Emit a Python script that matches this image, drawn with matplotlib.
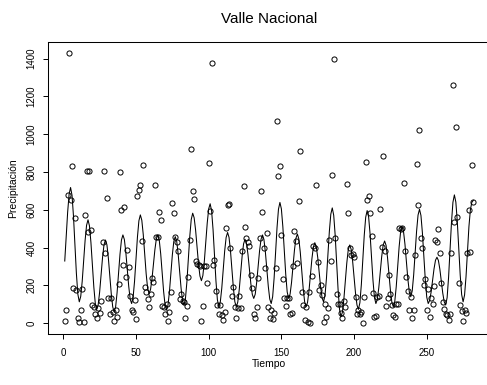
import numpy as np
import matplotlib.pyplot as plt

# precipitacion mensual, 12 por fila
precipitacion = [
    10, 72, 679, 1431, 653, 830, 184, 559, 175, 28, 5, 72,
    182, 5, 570, 808, 480, 803, 492, 95, 87, 48, 25, 81,
    55, 119, 432, 808, 373, 660, 133, 46, 134, 60, 9, 72,
    34, 205, 798, 600, 306, 617, 242, 387, 299, 145, 72, 57,
    122, 23, 671, 706, 729, 433, 837, 189, 163, 127, 83, 154,
    240, 219, 729, 455, 458, 586, 547, 92, 87, 48, 104, 11,
    60, 166, 635, 582, 455, 432, 380, 129, 154, 119, 113, 25,
    92, 246, 441, 924, 697, 656, 331, 313, 306, 304, 11, 92,
    304, 304, 214, 848, 594, 1378, 308, 334, 172, 96, 51, 96,
    42, 16, 60, 502, 626, 632, 400, 143, 190, 87, 30, 81,
    143, 81, 382, 727, 511, 449, 428, 410, 255, 184, 48, 30,
    87, 237, 449, 697, 587, 400, 290, 476, 87, 25, 72, 21,
    55, 290, 1069, 780, 833, 467, 234, 134, 92, 134, 134, 48,
    55, 300, 488, 435, 317, 649, 909, 163, 96, 19, 87, 7,
    166, 2, 249, 409, 396, 729, 322, 175, 202, 149, 4, 104,
    34, 78, 440, 330, 786, 1396, 450, 154, 104, 104, 55, 28,
    120, 87, 736, 582, 400, 361, 366, 349, 140, 51, 72, 46,
    60, 0, 140, 851, 653, 671, 582, 464, 161, 34, 39, 140,
    145, 603, 405, 886, 380, 90, 131, 255, 157, 96, 42, 34,
    101, 101, 506, 497, 502, 741, 384, 242, 172, 69, 140, 28,
    72, 360, 844, 626, 1024, 449, 396, 202, 235, 72, 179, 34,
    131, 104, 196, 440, 432, 499, 373, 215, 110, 75, 51, 42,
    19, 46, 373, 1263, 538, 1039, 564, 211, 96, 65, 11, 72,
    55, 373, 600, 379, 839, 644,
]

# valores ajustados (linea)
ajuste = [
    329, 459, 588, 683, 718, 677, 567, 415, 264, 154, 113, 142,
    221, 330, 438, 518, 547, 515, 428, 310, 191, 105, 73, 98,
    165, 256, 348, 415, 440, 415, 345, 250, 155, 86, 60, 87,
    162, 263, 365, 440, 467, 443, 376, 285, 195, 128, 104, 135,
    221, 338, 456, 542, 573, 545, 469, 365, 261, 185, 157, 178,
    234, 312, 389, 446, 467, 440, 367, 268, 168, 96, 69, 95,
    166, 263, 361, 432, 458, 434, 367, 277, 186, 120, 96, 129,
    217, 339, 460, 549, 582, 558, 493, 403, 314, 249, 225, 252,
    327, 428, 530, 605, 632, 595, 496, 359, 223, 123, 87, 113,
    185, 283, 382, 454, 480, 454, 382, 283, 185, 113, 87, 111,
    176, 265, 355, 420, 444, 423, 366, 287, 209, 152, 131, 153,
    215, 299, 383, 444, 467, 443, 376, 285, 195, 128, 104, 140,
    238, 371, 505, 603, 639, 605, 512, 385, 258, 165, 131, 154,
    216, 301, 387, 449, 472, 446, 376, 279, 183, 113, 87, 110,
    172, 256, 341, 403, 426, 405, 348, 269, 191, 134, 113, 146,
    237, 361, 486, 577, 610, 571, 466, 322, 178, 73, 34, 59,
    129, 224, 319, 389, 414, 391, 329, 243, 158, 96, 73, 108,
    204, 335, 465, 561, 596, 563, 473, 350, 227, 137, 104, 126,
    187, 270, 352, 413, 435, 412, 348, 261, 174, 110, 87, 115,
    193, 299, 405, 483, 511, 486, 418, 326, 233, 165, 140, 171,
    256, 372, 487, 572, 603, 570, 478, 354, 229, 137, 104, 120,
    165, 227, 288, 333, 349, 332, 286, 223, 159, 113, 96, 135,
    242, 388, 533, 640, 679, 641, 538, 396, 255, 151, 113, 149,
    246, 379, 511, 600, 640, 650,
]

tiempo = np.arange(1, len(precipitacion) + 1)
xticks = [0, 50, 100, 150, 200, 250]
yticks = [0, 200, 400, 600, 800, 1000, 1200, 1400]

plt.rcParams['font.family'] = ['Liberation Sans', 'DejaVu Sans']

fig = plt.figure(figsize=(4.87, 3.85), dpi=100)
ax = fig.add_axes([0.0994, 0.1325, 0.906, 0.7584])

ax.plot(tiempo, precipitacion, 'o', mfc='none', mec='black', ms=3.7, mew=0.7)
ax.plot(tiempo, ajuste, color='black', lw=0.75)

ax.margins(x=0.04, y=0.04)
ax.set_xticks(xticks)
ax.set_yticks(yticks)
ax.tick_params(direction='out', length=3.6, width=0.7, labelsize=7)
ax.tick_params(axis='x', pad=6.5)
ax.tick_params(axis='y', pad=5, labelrotation=90)
for lab in ax.get_yticklabels():
    lab.set_va('center')
for s in ax.spines.values():
    s.set_linewidth(0.75)

ax.set_xlabel('Tiempo', fontsize=7.5)
ax.set_ylabel('Precipitación', fontsize=7.5)
ax.xaxis.set_label_coords(0.5, -0.102)
ax.yaxis.set_label_coords(-0.080, 0.5)
ax.xaxis.label.set_va('center')
ax.yaxis.label.set_va('center')

fig.text(269 / 487, 1 - 19 / 385, 'Valle Nacional', ha='center', va='center', fontsize=11)

fig.savefig('out.png', dpi=100)
